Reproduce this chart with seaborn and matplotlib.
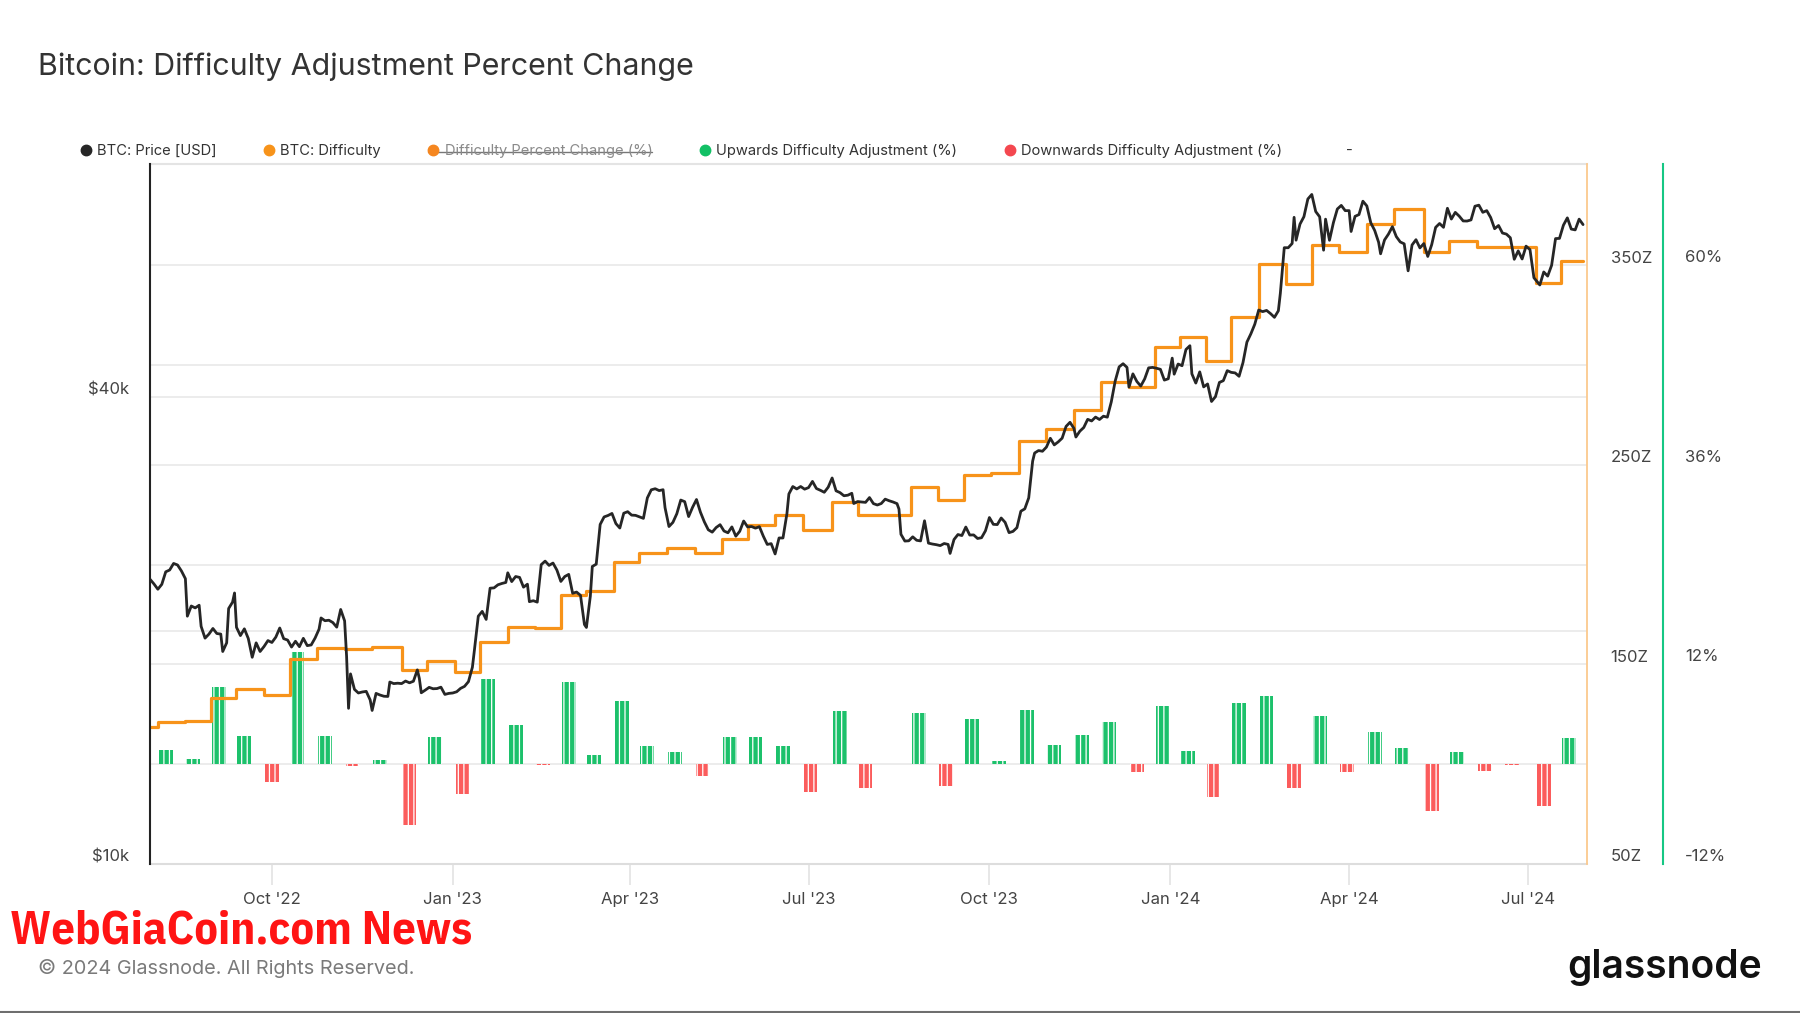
import numpy as np
import pandas as pd
import matplotlib
matplotlib.use('Agg')
import matplotlib.pyplot as plt
import matplotlib.dates as mdates
import matplotlib.transforms as mtransforms
from matplotlib.lines import Line2D
from matplotlib.ticker import NullLocator
from matplotlib import font_manager
import seaborn as sns

# BTC price (USD)
price_dates = [
    '2022-07-31', '2022-08-02', '2022-08-04', '2022-08-06', '2022-08-08', '2022-08-10', '2022-08-12', '2022-08-14',
    '2022-08-16', '2022-08-18', '2022-08-19', '2022-08-21', '2022-08-23', '2022-08-25', '2022-08-26', '2022-08-28',
    '2022-08-30', '2022-09-01', '2022-09-03', '2022-09-05', '2022-09-06', '2022-09-08', '2022-09-09', '2022-09-11',
    '2022-09-12', '2022-09-13', '2022-09-15', '2022-09-17', '2022-09-19', '2022-09-21', '2022-09-23', '2022-09-25',
    '2022-09-27', '2022-09-29', '2022-10-01', '2022-10-03', '2022-10-05', '2022-10-07', '2022-10-09', '2022-10-11',
    '2022-10-13', '2022-10-15', '2022-10-17', '2022-10-19', '2022-10-21', '2022-10-23', '2022-10-25', '2022-10-26',
    '2022-10-28', '2022-10-30', '2022-11-01', '2022-11-03', '2022-11-05', '2022-11-07', '2022-11-08', '2022-11-09',
    '2022-11-10', '2022-11-12', '2022-11-14', '2022-11-16', '2022-11-18', '2022-11-20', '2022-11-21', '2022-11-23',
    '2022-11-25', '2022-11-27', '2022-11-29', '2022-11-30', '2022-12-02', '2022-12-04', '2022-12-06', '2022-12-08',
    '2022-12-10', '2022-12-12', '2022-12-14', '2022-12-15', '2022-12-16', '2022-12-18', '2022-12-20', '2022-12-22',
    '2022-12-24', '2022-12-26', '2022-12-28', '2022-12-30', '2023-01-01', '2023-01-03', '2023-01-05', '2023-01-07',
    '2023-01-09', '2023-01-11', '2023-01-12', '2023-01-14', '2023-01-16', '2023-01-18', '2023-01-20', '2023-01-22',
    '2023-01-24', '2023-01-26', '2023-01-28', '2023-01-29', '2023-01-31', '2023-02-02', '2023-02-04', '2023-02-06',
    '2023-02-08', '2023-02-09', '2023-02-11', '2023-02-13', '2023-02-15', '2023-02-17', '2023-02-19', '2023-02-21',
    '2023-02-23', '2023-02-25', '2023-02-27', '2023-03-01', '2023-03-03', '2023-03-05', '2023-03-07', '2023-03-09',
    '2023-03-10', '2023-03-12', '2023-03-13', '2023-03-15', '2023-03-17', '2023-03-19', '2023-03-21', '2023-03-23',
    '2023-03-25', '2023-03-27', '2023-03-29', '2023-03-31', '2023-04-02', '2023-04-04', '2023-04-06', '2023-04-08',
    '2023-04-10', '2023-04-12', '2023-04-14', '2023-04-16', '2023-04-18', '2023-04-19', '2023-04-21', '2023-04-23',
    '2023-04-25', '2023-04-27', '2023-04-29', '2023-05-01', '2023-05-03', '2023-05-05', '2023-05-07', '2023-05-09',
    '2023-05-11', '2023-05-13', '2023-05-15', '2023-05-17', '2023-05-19', '2023-05-21', '2023-05-23', '2023-05-25',
    '2023-05-27', '2023-05-29', '2023-05-31', '2023-06-02', '2023-06-04', '2023-06-06', '2023-06-08', '2023-06-10',
    '2023-06-12', '2023-06-14', '2023-06-16', '2023-06-18', '2023-06-20', '2023-06-21', '2023-06-23', '2023-06-25',
    '2023-06-27', '2023-06-29', '2023-07-01', '2023-07-03', '2023-07-05', '2023-07-07', '2023-07-09', '2023-07-11',
    '2023-07-13', '2023-07-15', '2023-07-17', '2023-07-19', '2023-07-21', '2023-07-23', '2023-07-24', '2023-07-26',
    '2023-07-28', '2023-07-30', '2023-08-01', '2023-08-03', '2023-08-05', '2023-08-07', '2023-08-09', '2023-08-11',
    '2023-08-13', '2023-08-15', '2023-08-16', '2023-08-17', '2023-08-19', '2023-08-21', '2023-08-23', '2023-08-25',
    '2023-08-27', '2023-08-29', '2023-08-31', '2023-09-02', '2023-09-04', '2023-09-06', '2023-09-08', '2023-09-10',
    '2023-09-11', '2023-09-13', '2023-09-15', '2023-09-17', '2023-09-19', '2023-09-21', '2023-09-23', '2023-09-25',
    '2023-09-27', '2023-09-29', '2023-10-01', '2023-10-03', '2023-10-05', '2023-10-07', '2023-10-09', '2023-10-11',
    '2023-10-13', '2023-10-15', '2023-10-17', '2023-10-19', '2023-10-21', '2023-10-23', '2023-10-24', '2023-10-26',
    '2023-10-28', '2023-10-30', '2023-11-01', '2023-11-03', '2023-11-05', '2023-11-07', '2023-11-09', '2023-11-11',
    '2023-11-13', '2023-11-14', '2023-11-16', '2023-11-18', '2023-11-20', '2023-11-22', '2023-11-24', '2023-11-26',
    '2023-11-28', '2023-11-30', '2023-12-02', '2023-12-04', '2023-12-06', '2023-12-08', '2023-12-10', '2023-12-11',
    '2023-12-13', '2023-12-15', '2023-12-17', '2023-12-19', '2023-12-21', '2023-12-23', '2023-12-25', '2023-12-27',
    '2023-12-29', '2023-12-31', '2024-01-02', '2024-01-03', '2024-01-05', '2024-01-07', '2024-01-09', '2024-01-11',
    '2024-01-12', '2024-01-14', '2024-01-16', '2024-01-18', '2024-01-20', '2024-01-22', '2024-01-24', '2024-01-26',
    '2024-01-28', '2024-01-30', '2024-02-01', '2024-02-03', '2024-02-05', '2024-02-07', '2024-02-09', '2024-02-11',
    '2024-02-13', '2024-02-15', '2024-02-17', '2024-02-19', '2024-02-21', '2024-02-23', '2024-02-25', '2024-02-26',
    '2024-02-28', '2024-03-01', '2024-03-03', '2024-03-04', '2024-03-05', '2024-03-07', '2024-03-09', '2024-03-11',
    '2024-03-13', '2024-03-15', '2024-03-17', '2024-03-19', '2024-03-20', '2024-03-22', '2024-03-24', '2024-03-26',
    '2024-03-28', '2024-03-30', '2024-04-01', '2024-04-02', '2024-04-04', '2024-04-06', '2024-04-08', '2024-04-10',
    '2024-04-12', '2024-04-14', '2024-04-16', '2024-04-17', '2024-04-19', '2024-04-21', '2024-04-23', '2024-04-25',
    '2024-04-27', '2024-04-29', '2024-05-01', '2024-05-03', '2024-05-05', '2024-05-07', '2024-05-09', '2024-05-11',
    '2024-05-13', '2024-05-15', '2024-05-17', '2024-05-19', '2024-05-21', '2024-05-23', '2024-05-25', '2024-05-27',
    '2024-05-29', '2024-05-31', '2024-06-02', '2024-06-04', '2024-06-06', '2024-06-08', '2024-06-10', '2024-06-12',
    '2024-06-14', '2024-06-16', '2024-06-18', '2024-06-20', '2024-06-22', '2024-06-24', '2024-06-26', '2024-06-28',
    '2024-06-30', '2024-07-02', '2024-07-04', '2024-07-05', '2024-07-07', '2024-07-09', '2024-07-11', '2024-07-13',
    '2024-07-15', '2024-07-17', '2024-07-19', '2024-07-21', '2024-07-23', '2024-07-25', '2024-07-27', '2024-07-29',
]
price_usd = [
    23300, 22980, 22620, 22950, 23820, 23950, 24420, 24310,
    23880, 23340, 20880, 21520, 21400, 21570, 20260, 19560,
    19800, 20130, 19830, 19800, 18800, 19290, 21360, 21770,
    22370, 20200, 19710, 20110, 19540, 18480, 19290, 18800,
    19080, 19420, 19310, 19620, 20160, 19530, 19450, 19050,
    19380, 19070, 19550, 19130, 19170, 19570, 20090, 20770,
    20600, 20630, 20490, 20210, 21300, 20590, 18540, 15880,
    17590, 16800, 16620, 16670, 16700, 16280, 15780, 16600,
    16520, 16460, 16450, 17170, 17090, 17110, 17090, 17220,
    17130, 17210, 17800, 17360, 16630, 16760, 16900, 16830,
    16840, 16910, 16550, 16600, 16620, 16680, 16850, 16950,
    17190, 17940, 18850, 20880, 21180, 20680, 22690, 22710,
    22920, 23010, 23080, 23750, 23140, 23490, 23430, 22760,
    22960, 21800, 21860, 21770, 24330, 24590, 24280, 24450,
    23940, 23150, 23490, 23640, 22350, 22430, 22210, 20370,
    20190, 22160, 24200, 24370, 27420, 28040, 28160, 28330,
    27490, 27130, 28350, 28480, 28190, 28170, 28040, 27920,
    29670, 30390, 30490, 30320, 30400, 28820, 27250, 27590,
    28310, 29480, 29340, 28070, 28850, 29530, 28440, 27630,
    26990, 26800, 27170, 27400, 26890, 26750, 27220, 26480,
    26870, 27700, 27220, 27250, 27120, 27240, 26480, 25840,
    25900, 25120, 26340, 26340, 28310, 30020, 30690, 30470,
    30690, 30450, 30590, 31160, 30510, 30350, 30170, 30630,
    31480, 30300, 30140, 29860, 29910, 30080, 29180, 29350,
    29310, 29280, 29700, 29170, 29050, 29180, 29560, 29420,
    29310, 29170, 28700, 26630, 26100, 26120, 26430, 26160,
    26110, 27720, 25940, 25870, 25820, 25750, 25910, 25840,
    25160, 26220, 26610, 26530, 27210, 26570, 26580, 26300,
    26360, 26910, 27990, 27430, 27410, 27950, 27590, 26760,
    26860, 27160, 28520, 28720, 29670, 33090, 33900, 34150,
    34080, 34500, 35420, 34730, 35040, 35430, 36690, 37140,
    36480, 35550, 36170, 36570, 37470, 37290, 37720, 37450,
    37820, 37710, 39460, 41990, 43790, 44200, 43720, 41240,
    42890, 41930, 41360, 42260, 43660, 43720, 43610, 43470,
    42100, 42270, 44940, 42850, 44160, 43940, 46110, 46630,
    42890, 41730, 43140, 41260, 41620, 39510, 40080, 41810,
    42030, 43300, 43080, 43010, 42580, 44350, 47130, 48300,
    49700, 51840, 51600, 51780, 51300, 50730, 51730, 54480,
    62390, 62380, 63170, 68280, 63800, 66920, 68410, 72100,
    73080, 69460, 68390, 61930, 67910, 63780, 67210, 69990,
    70740, 69650, 69650, 65470, 68480, 68840, 71630, 70630,
    67190, 65660, 63400, 61270, 63840, 64960, 66410, 64480,
    63460, 63110, 58250, 62890, 63890, 62350, 63160, 60790,
    62960, 66270, 67040, 66280, 70140, 67930, 69290, 68520,
    67550, 67530, 67760, 70570, 70790, 69300, 69650, 68240,
    66010, 66640, 65170, 64960, 64260, 60280, 61800, 60330,
    62680, 62030, 57060, 56660, 55850, 58050, 57340, 59210,
    64100, 64140, 66700, 68170, 65940, 65780, 67910, 66820,
]

# difficulty adjustments (epoch start dates) and their percent change
adj_dates = [
    '2022-08-04', '2022-08-18', '2022-08-31', '2022-09-13', '2022-09-27', '2022-10-10', '2022-10-24', '2022-11-07',
    '2022-11-21', '2022-12-06', '2022-12-19', '2023-01-02', '2023-01-15', '2023-01-29', '2023-02-12', '2023-02-25',
    '2023-03-10', '2023-03-24', '2023-04-06', '2023-04-20', '2023-05-04', '2023-05-18', '2023-05-31', '2023-06-14',
    '2023-06-28', '2023-07-13', '2023-07-26', '2023-08-09', '2023-08-22', '2023-09-05', '2023-09-18', '2023-10-02',
    '2023-10-16', '2023-10-30', '2023-11-13', '2023-11-27', '2023-12-11', '2023-12-24', '2024-01-06', '2024-01-19',
    '2024-02-01', '2024-02-15', '2024-02-29', '2024-03-13', '2024-03-27', '2024-04-10', '2024-04-24', '2024-05-09',
    '2024-05-22', '2024-06-05', '2024-06-19', '2024-07-05', '2024-07-18',
]
adj_pct = [
    1.74, 0.63, 9.26, 3.45, -2.14, 13.55, 3.44, -0.21,
    0.51, -7.32, 3.27, -3.59, 10.26, 4.68, -0.15, 9.95,
    1.16, 7.56, 2.24, 1.5, -1.45, 3.3, 3.3, 2.2,
    -3.3, 6.45, -2.8, 0.0, 6.17, -2.65, 5.48, 0.35,
    6.47, 2.35, 3.56, 5.07, -0.96, 6.98, 1.65, -3.9,
    7.33, 8.24, -2.91, 5.79, -0.97, 3.92, 1.99, -5.62,
    1.48, -0.83, -0.05, -4.99, 3.2,
]

# BTC difficulty in Z (10^21 hashes), value in force from each date
diff_dates = ['2022-07-31'] + adj_dates + ['2024-07-29']
diff_z = [
    118.9,
    121.0, 121.8, 133.1, 137.7, 134.7, 152.9, 158.2, 157.9,
    158.7, 147.1, 151.9, 146.4, 161.4, 169.0, 168.2, 184.9,
    187.0, 201.2, 205.7, 208.7, 205.7, 212.8, 220.0, 224.8,
    217.5, 231.5, 225.0, 225.0, 238.9, 232.6, 245.3, 246.2,
    262.1, 268.3, 277.8, 291.9, 289.1, 309.3, 314.4, 302.1,
    324.3, 351.0, 340.8, 360.6, 357.0, 371.0, 378.4, 357.1,
    362.4, 359.4, 359.2, 341.5, 352.4,
    352.4,
]

BLACK = '#262626'
ORANGE = '#f7931a'
GREEN = '#1cc16b'
RED = '#fb5c5c'
GRID = '#ececec'
TXT = '#444444'

sns.set_theme(style='white')
plt.rcParams['font.family'] = ['Inter', 'DejaVu Sans']
plt.rcParams['hatch.linewidth'] = 0.9

W, H = 1800, 1013
fig = plt.figure(figsize=(W / 100, H / 100), dpi=100)
ax_pct = fig.add_axes([150 / W, 149 / H, 1437 / W, 700 / H])
ax_diff = ax_pct.twinx()
ax_price = ax_pct.twinx()

# percent change bars (bottom layer)
bar_x = pd.to_datetime(adj_dates) + pd.Timedelta(hours=12)
pct = np.array(adj_pct)
up = pct >= 0
ax_pct.bar(bar_x[up], pct[up], width=7, align='edge', color=GREEN,
           edgecolor='white', linewidth=0, hatch='|||', zorder=2)
ax_pct.bar(bar_x[~up], pct[~up], width=7, align='edge', color=RED,
           edgecolor='white', linewidth=0, hatch='|||', zorder=2)

# difficulty step line
diff_df = pd.DataFrame({'date': pd.to_datetime(diff_dates), 'z': diff_z})
sns.lineplot(data=diff_df, x='date', y='z', ax=ax_diff, color=ORANGE,
             linewidth=2.3, drawstyle='steps-post', estimator=None)

# price line
price_df = pd.DataFrame({'date': pd.to_datetime(price_dates), 'usd': price_usd})
sns.lineplot(data=price_df, x='date', y='usd', ax=ax_price, color=BLACK,
             linewidth=2.0, estimator=None)

xmin, xmax = pd.Timestamp('2022-07-31'), pd.Timestamp('2024-07-31')
for ax in (ax_pct, ax_diff, ax_price):
    ax.set_xlim(xmin, xmax)
    ax.set_xlabel('')
    ax.set_ylabel('')
    for s in ax.spines.values():
        s.set_visible(False)

# percent axis (outer right, green)
ax_pct.set_ylim(-12, 72.2)
ax_pct.set_yticks([-12, 0, 12, 24, 36, 48, 60])
ax_pct.set_yticklabels(['-12%', '', '12%', '', '36%', '', '60%'])
ax_pct.yaxis.tick_right()
ax_pct.tick_params(axis='y', length=0, pad=16, labelsize=12, labelcolor=TXT)
ax_pct.grid(axis='y', color=GRID, linewidth=1.4)
ax_pct.grid(axis='x', visible=False)
ax_pct.set_axisbelow(True)
ax_pct.spines['right'].set_visible(True)
ax_pct.spines['right'].set_position(('axes', 1 + 76 / 1437))
ax_pct.spines['right'].set_color('#16c784')
ax_pct.spines['right'].set_linewidth(1.5)
ax_pct.spines['top'].set_visible(True)
ax_pct.spines['top'].set_color('#e4e4e4')
ax_pct.spines['top'].set_linewidth(1.5)
ax_pct.spines['bottom'].set_visible(True)
ax_pct.spines['bottom'].set_color('#dddddd')
ax_pct.spines['bottom'].set_linewidth(1.5)

# log price gridlines drawn in the bottom layer
blend = mtransforms.blended_transform_factory(ax_pct.transAxes, ax_price.transData)
for v in [20000, 40000]:
    ax_pct.add_line(Line2D([0, 1], [v, v], transform=blend, color=GRID,
                           linewidth=1.4, zorder=0.5))

# x axis
ax_pct.xaxis.set_major_locator(mdates.MonthLocator(bymonth=[1, 4, 7, 10]))
ax_pct.xaxis.set_major_formatter(mdates.DateFormatter("%b '%y"))
ax_pct.tick_params(axis='x', bottom=True, length=15, width=1.2, color='#e3e3e3',
                   pad=5.5, labelsize=12, labelcolor=TXT)

# difficulty axis (inner right, orange)
ax_diff.set_ylim(50, 401)
ax_diff.set_yticks([50, 150, 250, 350])
ax_diff.set_yticklabels(['50Z', '150Z', '250Z', '350Z'])
ax_diff.tick_params(axis='y', length=0, pad=17, labelsize=12, labelcolor=TXT)
ax_diff.grid(False)
ax_diff.spines['right'].set_visible(True)
ax_diff.spines['right'].set_color('#fbc98e')
ax_diff.spines['right'].set_linewidth(1.3)

# price axis (left, log)
ax_price.set_yscale('log')
ax_price.set_ylim(10000, 80000)
ax_price.yaxis.tick_left()
ax_price.yaxis.set_label_position('left')
ax_price.set_yticks([10000, 20000, 40000, 80000])
ax_price.set_yticklabels(['$10k', '', '$40k', ''])
ax_price.yaxis.set_minor_locator(NullLocator())
ax_price.tick_params(axis='y', length=0, pad=15, labelsize=12, labelcolor=TXT)
ax_price.grid(False)
ax_price.spines['left'].set_visible(True)
ax_price.spines['left'].set_color('#222222')
ax_price.spines['left'].set_linewidth(1.5)

for ax in (ax_pct, ax_diff, ax_price):
    plt.setp(ax.get_yticklabels(), va='bottom')

# legend
handles = [
    Line2D([], [], ls='none', marker='o', markersize=7.5, color=BLACK),
    Line2D([], [], ls='none', marker='o', markersize=7.5, color=ORANGE),
    Line2D([], [], ls='none', marker='o', markersize=7.5, color='#f5861f'),
    Line2D([], [], ls='none', marker='o', markersize=7.5, color='#12c065'),
    Line2D([], [], ls='none', marker='o', markersize=7.5, color='#f4474f'),
    Line2D([], [], ls='none', marker='o', markersize=7.5, color='none'),
]
labels = ['BTC: Price [USD]', 'BTC: Difficulty', 'Difficulty Percent Change (%)',
          'Upwards Difficulty Adjustment (%)', 'Downwards Difficulty Adjustment (%)', '-']
leg = fig.legend(handles, labels, ncol=6, loc='center left',
                 bbox_to_anchor=(81 / W, 1 - 151 / H), frameon=False, fontsize=10.6,
                 handlelength=0.66, handletextpad=0.42, columnspacing=3.25,
                 borderpad=0, borderaxespad=0)
for i, t in enumerate(leg.get_texts()):
    t.set_color('#8a8a8a' if i == 2 else '#333333')

# texts
fig.text(38 / W, 1 - 67 / H, 'Bitcoin: Difficulty Adjustment Percent Change',
         fontsize=21.9, color='#333333', ha='left', va='center')
fig.text(38 / W, 1 - 968 / H, '\u00a9 2024 Glassnode. All Rights Reserved.',
         fontsize=14.3, color='#7a7a7a', ha='left', va='center')
fig.text(1762 / W, 1 - 978 / H, 'glassnode', fontsize=28, fontweight=600,
         color='#111111', ha='right', va='baseline')
fig.add_artist(Line2D([0, 1], [1.5 / H, 1.5 / H], transform=fig.transFigure,
                      color='#6e6e6e', linewidth=1.5))


# watermark: a heavy face sized to the reference width (463 px), size near 34 pt
def heavy(entry):
    w = entry.weight
    if isinstance(w, str):
        return w in ('bold', 'heavy', 'black', 'extra bold', 'ultrabold', 'demibold', 'semibold')
    return w >= 600


renderer = fig.canvas.get_renderer()
wm_text = 'WebGiaCoin.com News'
options = [('DejaVu Sans', 'normal')]
for f in font_manager.fontManager.ttflist:
    if heavy(f) and (f.stretch != 'normal' or any(k in f.name for k in ('Narrow', 'Condensed'))):
        if (f.name, f.stretch) not in options:
            options.append((f.name, f.stretch))
best, best_size = options[0], None
for fam, st in options:
    probe = fig.text(0, 0, wm_text, fontsize=40, family=fam, fontstretch=st, fontweight='bold')
    size = 40 * 463 / probe.get_window_extent(renderer).width
    probe.remove()
    if size <= 40 and (best_size is None or abs(size - 34) < abs(best_size - 34)):
        best, best_size = (fam, st), size
fig.text(10 / W, 1 - 943 / H, wm_text, fontsize=best_size, color='#ff1414',
         fontweight='bold', family=best[0], fontstretch=best[1],
         ha='left', va='baseline')

# strike-through on the hidden legend series
fig.canvas.draw()
bb = leg.get_texts()[2].get_window_extent()
ys = (bb.y0 + 0.45 * bb.height) / H
fig.add_artist(Line2D([(bb.x0 - 17) / W, bb.x1 / W], [ys, ys], transform=fig.transFigure,
                      color='#777777', linewidth=1))

fig.savefig('out.png', dpi=100)
